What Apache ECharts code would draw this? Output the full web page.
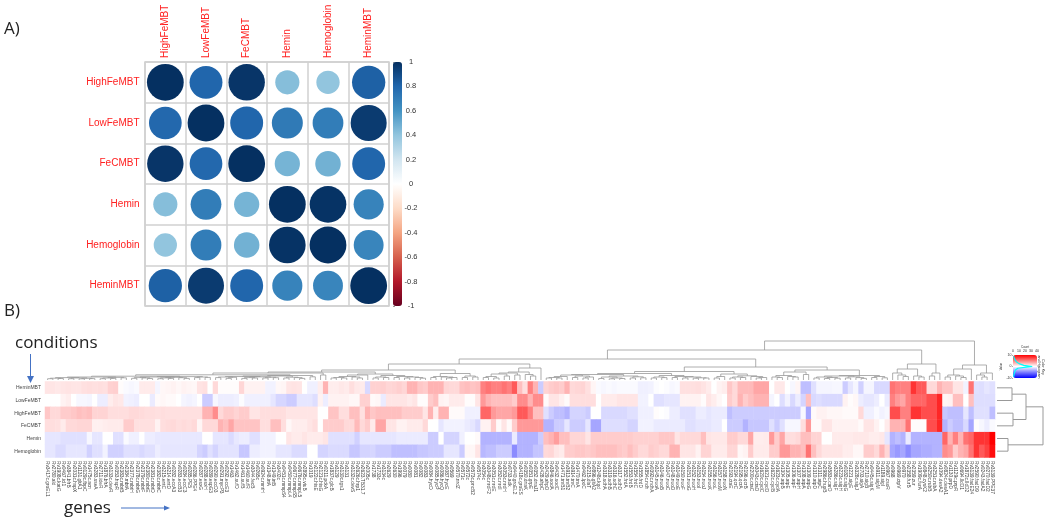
<!DOCTYPE html>
<html>
<head>
<meta charset="utf-8">
<title>Correlation and heatmap</title>
<script src="https://cdn.jsdelivr.net/npm/echarts@6/dist/echarts.min.js"></script>
<style>
    html, body { margin: 0; padding: 0; background: #fff; }
    #chart { width: 1050px; height: 521px; }
</style>
</head>
<body>
<div id="chart"></div>
<script>
// Panel A: correlation matrix
const corrLabels = ['HighFeMBT', 'LowFeMBT', 'FeCMBT', 'Hemin', 'Hemoglobin', 'HeminMBT'];
const corrHighFe = [1, 0.8, 0.98, 0.43, 0.4, 0.82];
const corrLowFe = [0.79, 1, 0.8, 0.71, 0.7, 0.96];
const corrFeC = [0.98, 0.79, 1, 0.47, 0.48, 0.8];
const corrHemin = [0.43, 0.7, 0.47, 1, 0.99, 0.67];
const corrHemoglobin = [0.4, 0.7, 0.48, 0.99, 1, 0.66];
const corrHeminMBT = [0.82, 0.96, 0.8, 0.67, 0.66, 1];
const corrRows = [corrHighFe, corrLowFe, corrFeC, corrHemin, corrHemoglobin, corrHeminMBT];
const rdBu = ['#67001F', '#B2182B', '#D6604D', '#F4A582', '#FDDBC7', '#FFFFFF', '#D1E5F0', '#92C5DE', '#4393C3', '#2166AC', '#053061'];

// Panel B: heatmap rows, one value per gene
const heatLabels = ['HeminMBT', 'LowFeMBT', 'HighFeMBT', 'FeCMBT', 'Hemin', 'Hemoglobin'];
const heatHeminMBT = [
    1,1,.9,1,1.1,1,1,1.2,1.3,1.2,
    1.3,1.2,1.8,1.9,.1,-.2,-.3,-.2,.8,.8,
    .8,-.4,.3,.4,.5,.3,.5,.4,.3,1.1,
    1.2,0,1.5,.1,.1,.1,.1,1.6,.5,.5,
    .5,.5,-.5,-.5,.3,.4,1,1.1,1,0,
    -.6,-.6,.7,3,.7,.7,.9,.8,1.3,.9,
    .8,-1.5,1.8,1.8,1.9,1.6,1.7,1.9,1.6,3,
    3,2.2,2,3,3,3,1.6,1.5,1.5,2.4,
    2.6,2.3,2.5,5,5.5,5,5,5.5,5,6.5,
    2.5,1.3,5,3,-2,1.7,2,2.2,2,3,
    1.5,1.6,1.7,1.2,.4,-.2,-.3,-.2,-.3,-.2,
    -.2,-.2,-.2,-.6,-.6,-.5,-.1,0,-.1,-.3,
    -.2,1.2,1.2,1.2,1.3,1.1,.8,0,.5,.7,
    2.2,1.5,2.7,2.7,2.7,3.5,3.5,3.5,0,.9,
    .9,0,-.3,.4,-2.5,-2.5,-1.2,-.4,-.4,-.4,
    -.3,-.3,-2,-1,-.4,-1.8,-.4,-.4,-1.5,-1.5,
    -1.5,5.5,5,5,5,8,6.5,6.5,1.5,1.5,
    3,2.3,2.3,1,1,-.5,5.5,-1.2,-1.3,-1,-1.2
];
const heatLowFeMBT = [
    0,0,0,.5,.7,0,-.3,-.3,-.4,0,
    -.7,-.7,.7,1,.9,-.5,-.6,-.7,0,0,
    -.8,.2,.3,.2,.2,0,-.4,-.5,-.4,0,
    -2,-2,-.3,-.7,-.7,-.7,-.6,-.1,-.6,-.6,
    -.6,-.6,-.6,-1,-1.6,-1.6,-2,-2,-1,-1,
    -1,-1.3,.5,-.7,.5,.5,.5,.5,.3,.3,
    1.8,1.8,.2,.3,-.8,1,1,1,1,.8,
    1,.1,.1,2,2.5,.5,.4,.8,.8,.8,
    .1,.1,1,4,3,2.5,2.5,2.5,2.5,2,
    4.5,4.5,3,4.5,4.5,.2,1,1,.6,.2,
    1.3,1.3,1.3,1.3,1.3,0,.8,.8,.8,1,
    1,1,1,-.5,-.5,0,-1.2,-1.2,-1,-1,
    -1,.5,.5,.5,.5,.1,1,.7,.3,0,
    2,1.5,3,2,2.5,3,3,3,-.4,0,
    -1.3,-.5,-1.5,-.7,-1.7,2.5,-1.5,-1.3,-1.5,-1.5,
    -1.5,-1.5,.5,.1,.3,-.7,-1,-1,-.7,0,
    -.8,5,4,3.5,5,6,6,6,7,7,
    8.5,.4,.5,2.5,2.5,0,2.5,-1.3,-1.3,-1.3,-1.3
];
const heatHighFeMBT = [
    2.2,1.5,1.5,2,2,2.2,2.5,2.3,2.5,1.7,
    1.7,1.7,1.3,1.3,1.3,1.3,1.5,1.5,1.4,1.3,
    1.3,1.2,1.3,1.2,1.2,1.2,1.2,1.2,1.2,1.2,
    3,3,4.5,1.5,2,2,1.7,2,2,1,
    1,1.3,1.3,1.3,1.3,1.3,1,1,1,1,
    1,1,0,0,2.3,2.3,1.3,1.3,2.5,2.5,
    1.2,3,2.2,2.5,2.5,2.5,2.5,2.5,2,2,
    2,2,1,3,.7,3,3,.2,.2,.2,
    -.6,-.6,-.6,6,6,4,3.5,3.5,3.5,4,
    6.5,6.5,5,2.5,2.5,-1.2,-2,-2.5,-2.5,-3,
    -1.7,-1.7,-1.7,-2,0,0,-1.5,-1.5,-1.5,-1.5,
    -1.5,-1.2,-1.2,-.6,-.6,-.6,.1,0,-.1,-.7,
    -.7,-1.2,-1.2,-1.2,-.7,-.7,-1,-.8,-.8,-.8,
    -2.5,-2,-2,-2,-2,-2,-2,-2,-2,-2,
    -2,-2,-2,-2,-.3,-3.5,.2,.5,.5,.3,
    .3,.3,.2,.2,.2,1.5,-.6,-.6,-.2,-.5,
    -.3,7,7,5,5,8,8,7,7,7,
    8.5,-2.2,-2.5,-2.5,-2.5,-1,-2.5,-1.2,-1.2,-1.2,-2.5
];
const heatFeCMBT = [
    1.3,1.3,1.2,.8,1.5,1.5,1.6,1.6,1.6,.6,
    .6,.7,.8,.8,.8,2,2,1.2,1.2,1.2,
    1.2,.5,1.3,1.4,1.5,1.3,1.4,1.3,1.5,.4,
    1.5,1.5,1.5,3,2.5,3.5,2.3,2.3,2.3,2.3,
    2.3,1.3,1.3,2.5,2.5,1.3,.3,.7,.7,.7,
    1,1.3,0,2,2,2,2,1.5,1.5,2.7,
    1.5,2,.8,3.5,3.5,1,1,.5,.5,.8,
    .8,.8,1.5,0,0,-1,-.5,-.5,-.5,-.5,
    -.8,-1,-1.5,.5,.5,2,.2,1,.2,2,
    4,4,4,4,4,-3,-3,-2,-2,-1,
    -2,-2,-2,-1,-3.5,-3.5,-1.3,-1.3,-1.3,-1.3,
    -1.3,-1.7,-1.7,-.5,-.5,-.5,-.8,-.8,-.8,-.8,
    -.8,-.8,-1.2,-1.2,-1,-1,-1,-.8,-.8,0,
    -2,-2,-2,-3,-2.2,-2.2,-2.2,-2.2,-1.2,-2,
    -1.2,-.3,-.3,-.3,1.3,4,.2,.2,1,1,
    .5,.5,.5,.5,.5,.2,1,1,.5,0,
    .8,3,3,3,5.5,.1,.1,.1,7,7,
    8.5,-3,-2,-2.5,-2.5,-1.5,-3.5,.1,-.3,-.7,-.2
];
const heatHemin = [
    -1,-1,-1,-1.2,-1.2,-1.2,-1.2,-1.2,-.3,-1,
    -1,0,0,-1.2,-1.2,-.2,-.6,-.6,0,-.7,
    -.7,-.9,-.9,-.9,-.9,-.9,-.9,-.9,-.9,-.9,
    0,0,-1,-1,-1,-1.4,-.9,-.7,-.7,-1.2,
    -1.2,-.5,-.5,-.5,0,0,1,.8,.8,1,
    .8,.8,.8,1,-1.2,-1.2,-1.2,-1.2,-1.2,-1.8,
    -1,-1,-1,-1,-1,-1,-1,-.8,-.8,-.8,
    -.8,-.8,-.8,-2,-2,0,-1.7,-1.7,-1.7,-.6,
    0,0,.2,-3,-3,-3,-3,-3,-3,-.8,
    -3,-3,-3,-3,-2,2.5,3,3.8,2.5,2.5,
    1.6,1.6,1.6,1,2,2,2,2,2,2,
    2,2,1.8,1.8,1.8,1.8,1.8,2.2,2.2,2.2,
    1,1.5,1.5,1.5,1.5,2.5,1,.9,.9,.9,
    2,2,1.5,1.5,3.5,.7,.7,.8,4,2,
    3.5,1.3,1.3,1.5,2.5,2.5,1.7,1.7,0,0,
    .8,.8,.8,.8,.9,.9,.9,.7,.7,.9,
    -1,-3,-2.5,-3,-.8,-3,-3,-3,-3,-3,
    -3,6,3,5,3,5.5,6,8,8,8,10
];
const heatHemoglobin = [
    -1,-1,-1.4,-1.4,-1,-1,-1,-1,-1.8,-1.2,
    -1.2,-.5,-1.8,-1.8,-1.8,-1.2,-1.2,-1.2,-1.5,-1.2,
    -1.2,-.7,-1,-1,-1,-1,-1,-1,-1,-1.7,
    -2,-1.2,-1.7,-1.1,-1.1,-1.1,-1.1,-2.2,-2.2,-.7,
    -.7,-.5,-.5,-.5,-1,-1,-1,-1.4,-1.4,-1.4,
    0,0,-1.7,-1.7,-1.4,-1.4,-1.4,-1.4,-2.2,-2.2,
    -1.7,-1.7,-1.6,-2,-2,-2,-2.5,-2.5,-2.5,-2.5,
    -2.5,-2.2,-2.2,-2,-2,-2,-1,-1,-1,-2,
    .3,.3,1,-2.8,-2.5,-2.5,-2,-2,-2,-4.5,
    -3,-3,-3,-2.3,-2.3,1.5,1.6,1,.8,2,
    2,2.2,2.2,2,2.2,2.5,2.5,2.5,2.5,2.2,
    2,2.5,2,1.5,1.5,2,1.8,1.5,1.5,3,
    3,1,1,1,.5,1.7,1.7,.8,.8,.8,
    1.6,1.6,.3,.5,2,.8,.8,.8,2,2,
    4,4,3,3,2.5,5.5,2.5,1.5,1,1,
    1,1,.7,.7,.3,.3,2,2,1.5,3,
    1.6,-3.5,-4,-3.5,-4.5,-3.5,-3.5,-3.2,-3.2,-3,
    -3,4.5,4,2,3,3.5,5.5,8,6.5,7.5,9.5
];
const heatRows = [heatHeminMBT, heatLowFeMBT, heatHighFeMBT, heatFeCMBT, heatHemin, heatHemoglobin];

const geneNames = [
    'Rv3417c.groEL1','Rv2780.ald','Rv1908c.katG','Rv0467.icl1','Rv3841.bfrB','Rv2031c.hspX','Rv1131.gltA1','Rv0129c.fbpC','Rv1475c.acn','Rv3283.sseA',
    'Rv2711.ideR','Rv1876.bfrA','Rv3133c.devR','Rv0353.hspR','Rv2383c.mbtB','Rv2384.mbtA','Rv2377c.mbtH','Rv2378c.mbtG','Rv2379c.mbtF','Rv2380c.mbtE',
    'Rv2381c.mbtD','Rv2382c.mbtC','Rv3215.entC','Rv3214.entD','Rv0282.eccA3','Rv0283.eccB3','Rv0284.eccC3','Rv0285.PE5','Rv0286.PPE4','Rv0287.esxG',
    'Rv0288.esxH','Rv0289.espG3','Rv0290.eccD3','Rv0291.mycP3','Rv0292.eccE3','Rv1463','Rv1462.sufD','Rv1461.sufB','Rv1460.sufR','Rv3044.fecB',
    'Rv0265c','Rv0924c.mntH','Rv1348.irtA','Rv1349.irtB','Rv3402c','Rv0451c.mmpS4','Rv0450c.mmpL4','Rv0677c.mmpS5','Rv0676c.mmpL5','Rv2895c.viuB',
    'Rv1019','Rv2122c.hisE','Rv2121c.hisG','Rv0211.pckA','Rv1837c.glcB','Rv3129','Rv3130c.tgs1','Rv3131','Rv3132c.devS','Rv2626c.hrp1',
    'Rv2623.TB31.7','Rv2005c','Rv1738','Rv1733c','Rv3134c','Rv2629','Rv2630','Rv1996','Rv0079','Rv0080',
    'Rv0081','Rv0082','Rv0083','Rv0084.hycD','Rv0085.hycP','Rv0086.hycQ','Rv0087.hycE','Rv0569','Rv0570.nrdZ','Rv0571c',
    'Rv0572c','Rv0573c.pncB2','Rv0574c','Rv3054c','Rv3048c.nrdF2','Rv3051c.nrdE','Rv3052c.nrdI','Rv3053c.nrdH','Rv0733.adk','Rv0440.groEL2',
    'Rv3418c.groES','Rv0350.dnaK','Rv0351.grpE','Rv0352.dnaJ1','Rv2428.ahpC','Rv2429.ahpD','Rv3846.sodA','Rv0432.sodC','Rv1471.trxB1','Rv3913.trxB2',
    'Rv3914.trxC','Rv1470.trxA','Rv0462.lpdC','Rv2215.dlaT','Rv0896.gltA2','Rv1248c.kgd','Rv3318.sdhA','Rv3319.sdhB','Rv3316.sdhC','Rv3317.sdhD',
    'Rv1552.frdA','Rv1553.frdB','Rv1554.frdC','Rv1555.frdD','Rv1854c.ndh','Rv0392c.ndhA','Rv3145.nuoA','Rv3146.nuoB','Rv3147.nuoC','Rv3148.nuoD',
    'Rv3149.nuoE','Rv3150.nuoF','Rv3151.nuoG','Rv3152.nuoH','Rv3153.nuoI','Rv3154.nuoJ','Rv3155.nuoK','Rv3156.nuoL','Rv3157.nuoM','Rv3158.nuoN',
    'Rv2193.ctaE','Rv2194.qcrC','Rv2195.qcrA','Rv2196.qcrB','Rv2200c.ctaC','Rv3043c.ctaD','Rv1620c.cydC','Rv1621c.cydD','Rv1622c.cydB','Rv1623c.cydA',
    'Rv1304.atpB','Rv1305.atpE','Rv1306.atpF','Rv1307.atpH','Rv1308.atpA','Rv1309.atpG','Rv1310.atpD','Rv1311.atpC','Rv2986c.hupB','Rv3583c.carD',
    'Rv3286c.sigF','Rv3223c.sigH','Rv0182c.sigG','Rv1221.sigE','Rv3328c.sigJ','Rv2703.sigA','Rv2710.sigB','Rv0445c.sigK','Rv3911.sigM','Rv1189.sigI',
    'Rv0967.csoR','Rv0968','Rv0969.ctpV','Rv0970','Rv2358.furB','Rv2359.zur','Rv1909c.furA','Rv0848.cysK2','Rv3250c.rubB','Rv3251c.rubA',
    'Rv1094.desA2','Rv0824c.desA1','Rv1130.prpD','Rv1129c.prpR','Rv0694.lldD1','Rv1872c.lldD2','Rv3139.fadE24','Rv2590.fadD9','Rv0243.fadA2','Rv0270.fadD2',
    'Rv3139.PPE37'
];

// Gene dendrogram as nested merges: [height, left, right], numbers are gene positions
const treeA1 = [2.4, [1.8, [1.3, 0, 1], [1.5, 2, 3]], [2.1, [1.3, 4, 5], [1.7, [1.2, 6, 7], [1.4, 8, 9]]]];
const treeA2 = [2.6, [2, [1.3, 10, 11], [1.6, 12, 13]], [2.2, 14, 15]];
const treeA3 = [2.4, [1.7, 16, 17], [2.1, 18, [1.5, 19, 20]]];
const treeA4 = [2.7, [2.1, [1.3, 21, 22], [1.6, 23, 24]], [2.3, 25, [1.6, 26, 27]]];
const treeA5 = [3, [2.4, 28, 29], [2.6, 30, 31]];
const treeA = [3.8, [3, treeA1, treeA2], [3.4, [3, treeA3, treeA4], treeA5]];
const treeB1 = [3, [2.4, 32, 33], [2.7, [1.6, 34, 35], 36]];
const treeB2 = [3.1, [2.4, [1.6, 37, 38], [2, 39, 40]], [2.7, [2, 41, 42], [2.3, 43, 44]]];
const treeB3 = [2.8, [2, 45, 46], [2.4, 47, [1.6, 48, 49]]];
const treeB = [4.5, [4, [3.5, treeB1, treeB2], treeB3], [3.2, 50, 51]];
const treeC = [7, [5.2, treeA, treeB], [5, 52, 53]];
const treeD1 = [3.5, [2.5, [2, 54, 55], [2, 56, 57]], [3, 58, [2, 59, 60]]];
const treeD3 = [4.5, [3, [2, 62, 63], [2.5, 64, 65]], [3.5, [2.5, 66, 67], [3, [2, 68, 69], [2.5, 70, [1.8, 71, 72]]]]];
const treeD = [6, [5, treeD1, 61], treeD3];
const treeE = [8, treeC, treeD];
const treeQ = [6.5, [3.5, [2.5, 73, 74], [3, 75, [2.5, [2, 76, 77], 78]]], [4, [2.5, 79, 80], [3, 81, 82]]];
const treeF = [10, treeE, treeQ];
const treeR1 = [6, [3.5, [2.5, 83, 84], [2, 85, 86]], [4, 87, 88]];
const treeG0 = [8, [7, treeR1, [5, 89, 90]], [5.5, 91, [4, 92, 93]]];
const treeH = [16, treeF, [12, treeG0, 94]];
const treeS1 = [5, [3.5, [2.5, [2, 95, 96], [2, 97, 98]], 99], [4, [2.5, 100, 101], [3, [2, 102, 103], 104]]];
const treeS2 = [4, [3, [1.5, 105, 106], [2, [1.2, 107, 108], [1.5, 109, 110]]], [3.2, [2, 111, 112], [2.2, 113, 114]]];
const treeS3 = [4.5, [3, [2, 115, 116], [2.4, 117, 118]], [3.5, [2.5, 119, 120], [3, [2, 121, 122], [2.2, [1.8, 123, 124], [2, 125, 126]]]]];
const treeS = [6.5, [5.5, treeS1, treeS2], treeS3];
const treeT = [6, [3.5, [2, 127, 128], 129], [4.2, [3, [2, 130, 131], [2.5, 132, 133]], [3.5, 134, [2.5, [2, 135, 136], 137]]]];
const treeU = [8, [4.5, [3, 138, [2.5, 139, 140]], [3.5, 141, [3, 142, 143]]], [5.5, 144, 145]];
const treeV1 = [3, [2, 146, 147], [2.5, [1.5, 148, 149], [1.8, 150, 151]]];
const treeV2 = [3.2, [2, 152, 153], [2.4, 154, [1.6, 155, 156]]];
const treeV = [4.5, [4, treeV1, treeV2], [3.5, [2.5, 157, 158], [2.2, 159, 160]]];
const treeRight1 = [13, [8.5, treeS, treeT], [10, treeU, treeV]];
const treeM = [16, [11, [7, 161, [5, 162, [3.5, 163, 164]]], [4, 165, [3, 166, 167]]], [7, [4, 168, 169], 170]];
const treeN = [15, [11, [5, [3, 171, 172], [4, 173, [2.5, 174, 175]]], 176], [7, [5, 177, [3, 178, 179]], 180]];
const geneTree = [39, [30, [21, treeH, treeRight1], treeM], treeN];

// Condition dendrogram, numbers are row positions
const conditionTree = [46, [29, [15, 0, 1], [16, 2, 3]], [11, 4, 5]];

// Colour key trace (count per value)
const keyCounts = [1, 3, 6, 10, 18, 32, 22, 8, 4, 2, 1];
const keyValues = [9, 6, 4, 2.5, 1, 0, -0.5, -1.5, -3, -6, -9];

// Turn a nested tree into merge rows [posLeft, posRight, height, heightLeft, heightRight]
function layoutTree(node, merges) {
    if (typeof node === 'number') {
        return { pos: node + 0.5, height: 0 };
    }
    const left = layoutTree(node[1], merges);
    const right = layoutTree(node[2], merges);
    merges.push([left.pos, right.pos, node[0], left.height, right.height]);
    return { pos: (left.pos + right.pos) / 2, height: node[0] };
}

const geneMerges = [];
layoutTree(geneTree, geneMerges);
const conditionMerges = [];
layoutTree(conditionTree, conditionMerges);

function treeRenderer(horizontal) {
    return function (params, api) {
        const at = horizontal
            ? (pos, h) => api.coord([h, pos])
            : (pos, h) => api.coord([pos, h]);
        return {
            type: 'polyline',
            shape: {
                points: [
                    at(api.value(0), api.value(3)),
                    at(api.value(0), api.value(2)),
                    at(api.value(1), api.value(2)),
                    at(api.value(1), api.value(4))
                ]
            },
            style: { stroke: '#999', lineWidth: horizontal ? 1 : 0.8, fill: null }
        };
    };
}

const corrData = [];
corrRows.forEach((row, r) => row.forEach((v, c) => corrData.push([c, r, v])));
const heatData = [];
heatRows.forEach((row, r) => row.forEach((v, c) => heatData.push([c, r, v])));

const hiddenValueAxis = (index, min, max, extra) => Object.assign({
    type: 'value', gridIndex: index, min: min, max: max, show: false
}, extra || {});

const arrowColor = '#4472c4';
const annotation = (x, y, text, size) => ({
    type: 'text', x: x, y: y,
    style: { text: text, fontFamily: 'Open Sans', fontSize: size, fill: '#222', textVerticalAlign: 'middle' }
});

const chart = echarts.init(document.getElementById('chart'), null, { renderer: 'canvas' });

chart.setOption({
    animation: false,
    backgroundColor: '#fff',
    textStyle: { fontFamily: 'Liberation Sans' },
    grid: [
        { left: 145, top: 62, width: 244, height: 244, show: true, borderColor: '#d0d0d0', borderWidth: 1.5 },
        { left: 393, top: 62, width: 9, height: 244 },
        { left: 45, top: 381.5, width: 950, height: 76 },
        { left: 45, top: 340, width: 950, height: 40 },
        { left: 997, top: 381.5, width: 50, height: 76 },
        { left: 1013, top: 355, width: 24, height: 23 }
    ],
    xAxis: [
        {
            type: 'category', gridIndex: 0, data: corrLabels, position: 'top',
            axisLine: { show: false }, axisTick: { show: false },
            splitLine: { show: true, interval: 0, lineStyle: { color: '#d0d0d0', width: 1.5 } },
            axisLabel: { rotate: -90, interval: 0, color: '#ff2020', fontSize: 10, margin: 4 }
        },
        hiddenValueAxis(1, 0, 1),
        {
            type: 'category', gridIndex: 2, data: geneNames,
            axisLine: { show: false }, axisTick: { show: false },
            axisLabel: { rotate: -90, interval: 0, color: '#444', fontSize: 4.8, margin: 3.5, hideOverlap: false }
        },
        hiddenValueAxis(3, 0, geneNames.length),
        hiddenValueAxis(4, 0, 50),
        {
            type: 'value', gridIndex: 5, min: 0, max: 40, interval: 10, position: 'top',
            name: 'Count', nameLocation: 'middle', nameGap: 5,
            nameTextStyle: { fontSize: 3, color: '#333' },
            axisLine: { show: false }, splitLine: { show: false },
            axisTick: { length: 1, lineStyle: { width: 0.5 } },
            axisLabel: { fontSize: 3.5, color: '#333', margin: 1.5 }
        }
    ],
    yAxis: [
        {
            type: 'category', gridIndex: 0, data: corrLabels, inverse: true,
            axisLine: { show: false }, axisTick: { show: false },
            splitLine: { show: true, interval: 0, lineStyle: { color: '#d0d0d0', width: 1.5 } },
            axisLabel: { interval: 0, color: '#ff2020', fontSize: 10, margin: 5.5 }
        },
        {
            type: 'value', gridIndex: 1, position: 'right', min: -1, max: 1, interval: 0.2,
            axisLine: { show: false }, splitLine: { show: false },
            axisTick: { length: 2, lineStyle: { color: '#555', width: 0.6 } },
            axisLabel: { fontSize: 7.5, color: '#333', align: 'center', margin: 9 }
        },
        {
            type: 'category', gridIndex: 2, data: heatLabels, inverse: true,
            axisLine: { show: false }, axisTick: { show: false },
            axisLabel: { interval: 0, color: '#444', fontSize: 5, margin: 4 }
        },
        hiddenValueAxis(3, 0, 40),
        hiddenValueAxis(4, 0, heatLabels.length, { inverse: true }),
        {
            type: 'value', gridIndex: 5, min: -10, max: 10, interval: 10,
            name: 'Value', nameLocation: 'middle', nameGap: 7, nameRotate: 90,
            nameTextStyle: { fontSize: 3, color: '#333' },
            axisLine: { show: false }, splitLine: { show: false },
            axisTick: { length: 1, lineStyle: { width: 0.5 } },
            axisLabel: { fontSize: 3.5, color: '#333', margin: 1.5 }
        }
    ],
    visualMap: [
        {
            type: 'continuous', seriesIndex: 0, dimension: 2, min: -1, max: 1, left: 393, top: 62,
            itemWidth: 9, itemHeight: 244, padding: 0, text: null, showLabel: false, hoverLink: false,
            inRange: { color: rdBu }
        },
        {
            type: 'continuous', seriesIndex: 1, dimension: 2, min: -10, max: 10, show: false,
            inRange: { color: ['#0000ff', '#ffffff', '#ff0000'] }
        },
        {
            type: 'continuous', seriesIndex: 1, dimension: 2, min: -10, max: 10, left: 1013, top: 355,
            itemWidth: 24, itemHeight: 23, padding: 0, text: null, showLabel: false, hoverLink: false,
            inRange: { color: ['#0000ff', '#ffffff', '#ff0000'] }
        }
    ],
    series: [
        {
            type: 'scatter', xAxisIndex: 0, yAxisIndex: 0, data: corrData, symbol: 'circle',
            itemStyle: { opacity: 1 },
            symbolSize: (val) => Math.sqrt(Math.abs(val[2])) * 36.8
        },
        {
            type: 'heatmap', xAxisIndex: 2, yAxisIndex: 2, data: heatData, progressive: 0
        },
        {
            type: 'custom', xAxisIndex: 3, yAxisIndex: 3, data: geneMerges,
            encode: { x: [0, 1], y: [2] }, renderItem: treeRenderer(false), clip: false
        },
        {
            type: 'custom', xAxisIndex: 4, yAxisIndex: 4, data: conditionMerges,
            encode: { x: [2], y: [0, 1] }, renderItem: treeRenderer(true), clip: false
        },
        {
            type: 'line', xAxisIndex: 5, yAxisIndex: 5, z: 10, showSymbol: false,
            data: keyCounts.map((n, i) => [n, keyValues[i]]),
            lineStyle: { color: '#00ffff', width: 1.2 }
        }
    ],
    graphic: [
        annotation(4, 29, 'A)', 17),
        annotation(4, 311, 'B)', 17),
        annotation(15, 343, 'conditions', 17),
        annotation(64, 508, 'genes', 17),
        {
            type: 'text', x: 1041, y: 367, rotation: -Math.PI / 2,
            style: { text: 'Color Key\nand Histogram', fontSize: 3.5, fill: '#222', align: 'center', verticalAlign: 'middle' }
        },
        { type: 'line', shape: { x1: 30.5, y1: 354, x2: 30.5, y2: 377 }, style: { stroke: arrowColor, lineWidth: 1 } },
        { type: 'polygon', shape: { points: [[27, 376], [34, 376], [30.5, 383]] }, style: { fill: arrowColor } },
        { type: 'line', shape: { x1: 121, y1: 508, x2: 165, y2: 508 }, style: { stroke: arrowColor, lineWidth: 1 } },
        { type: 'polygon', shape: { points: [[164, 505.5], [164, 510.5], [170, 508]] }, style: { fill: arrowColor } }
    ]
});

window.addEventListener('resize', function () {
    chart.resize();
});
</script>
</body>
</html>
